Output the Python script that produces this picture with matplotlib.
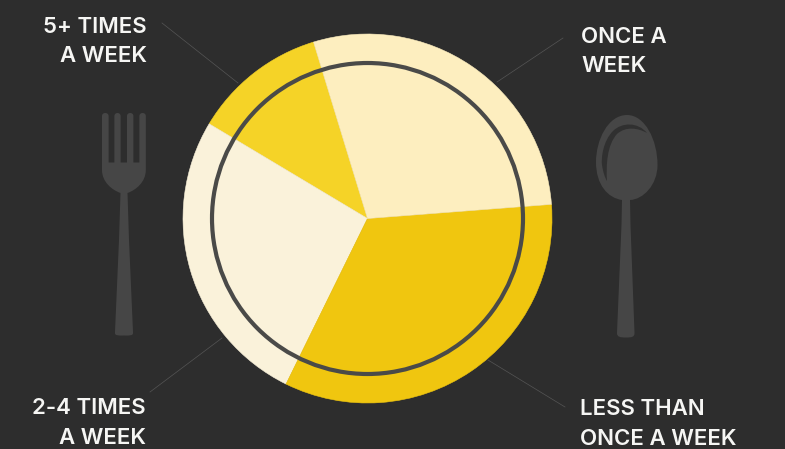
import matplotlib
matplotlib.use('Agg')
import matplotlib.pyplot as plt
from matplotlib.patches import Circle, PathPatch
from matplotlib.path import Path

W, H = 785, 449
BG = '#2d2d2d'
ICON = '#464646'

labels = ['5+ TIMES\nA WEEK', '2-4 TIMES\nA WEEK', 'LESS THAN\nONCE A WEEK', 'ONCE A\nWEEK']
shares = [11.7, 26.3, 33.5, 28.5]
colors = ['#f5d327', '#faf2da', '#f0c60f', '#fdeebf']

M, L, C, Z = Path.MOVETO, Path.LINETO, Path.CURVE4, Path.CLOSEPOLY


def py(y):
    # everything below is laid out in pixels from the top left
    return H - y


def shape(ax, verts, codes, color, z=3):
    pts = [(x, py(y)) for x, y in verts]
    ax.add_patch(PathPatch(Path(pts, codes), fc=color, ec='none', zorder=z))


fig = plt.figure(figsize=(W / 100, H / 100), dpi=100, facecolor=BG)
ax = fig.add_axes([0, 0, 1, 1])
ax.set_xlim(0, W)
ax.set_ylim(0, H)
ax.axis('off')

cx, cy, r = 367.5, 218.5, 184.5
wedges, _ = ax.pie(shares, colors=colors, startangle=107, center=(cx, py(cy)), radius=r,
                   frame=True, wedgeprops={'linewidth': 0.4})
# edge in the wedge's own colour hides the seams between slices
for w, c in zip(wedges, colors):
    w.set_edgecolor(c)
ax.set_xlim(0, W)
ax.set_ylim(0, H)
ax.axis('off')

# plate rim
ax.add_patch(Circle((cx, py(cy)), 155.5, fc='none', ec='#4a4a48', lw=3, zorder=4))

# leader lines
for x0, y0, x1, y1 in [(162, 23, 238, 83), (563, 38, 497, 82), (222, 338, 150, 392), (488, 360, 565, 407)]:
    ax.plot([x0, x1], [py(y0), py(y1)], color='#555555', lw=0.5, zorder=2)

# fork
fork_v = [(102, 116), (102, 112), (108.6, 112), (108.6, 116), (108.6, 162.5), (114.4, 162.5), (114.4, 116),
          (114.4, 112), (120.6, 112), (120.6, 116), (120.6, 162.5), (127, 162.5), (127, 116),
          (127, 112), (133.4, 112), (133.4, 116), (133.4, 162.5), (139.4, 162.5), (139.4, 116),
          (139.4, 112), (145.8, 112), (145.8, 116), (145.8, 170),
          (145.8, 182), (136, 190), (127.5, 193),
          (129, 240), (133, 332),
          (133.5, 336), (130, 335.5), (124, 335.5),
          (118, 335.5), (114.5, 336), (115, 332),
          (119, 240), (120.5, 193),
          (112, 190), (102, 182), (102, 170), (102, 116)]
fork_c = [M, C, C, C, L, L, L, C, C, C, L, L, L, C, C, C, L, L, L, C, C, C, L,
          C, C, C, L, L, C, C, C, C, C, C, L, L, C, C, C, L]
shape(ax, fork_v, fork_c, ICON)

# spoon bowl and handle
bowl_v = [(627, 115), (645, 115), (657.5, 140), (657.5, 165), (657.5, 185), (643, 199.5), (630, 200),
          (630.5, 225), (634.5, 333),
          (634.5, 337), (632, 337.5), (626, 337.5),
          (620, 337.5), (617, 337), (617, 333),
          (621.5, 225), (622, 200),
          (608, 198), (596, 185), (596, 162), (596, 140), (608, 115), (627, 115)]
bowl_c = [M, C, C, C, C, C, C, L, L, C, C, C, C, C, C, L, L, C, C, C, C, C, C]
shape(ax, bowl_v, bowl_c, ICON)

# dark crescent inside the bowl
groove_v = [(647, 133), (638, 122), (622, 122), (613, 131), (603, 141), (601, 158), (602, 165),
            (603, 172), (605, 178), (607, 181), (606, 165), (607, 145), (617, 134), (626, 126), (638, 128), (647, 133)]
groove_c = [M, C, C, C, C, C, C, C, C, C, C, C, C, C, C, C]
shape(ax, groove_v, groove_c, '#303030', z=4)

font = dict(family='Inter', weight='semibold', fontsize=16, color='#f6f6f4')
label_pos = [(147, 32.6, 62, 'right'), (146, 414.5, 444.5, 'right'), (580, 414.7, 445, 'left'), (581, 43, 72, 'left')]
for lab, (x, y1, y2, ha) in zip(labels, label_pos):
    line1, line2 = lab.split('\n')
    ax.text(x, py(y1), line1, ha=ha, va='baseline', **font)
    ax.text(x, py(y2), line2, ha=ha, va='baseline', **font)

fig.savefig('out.png', dpi=100, facecolor=BG)
